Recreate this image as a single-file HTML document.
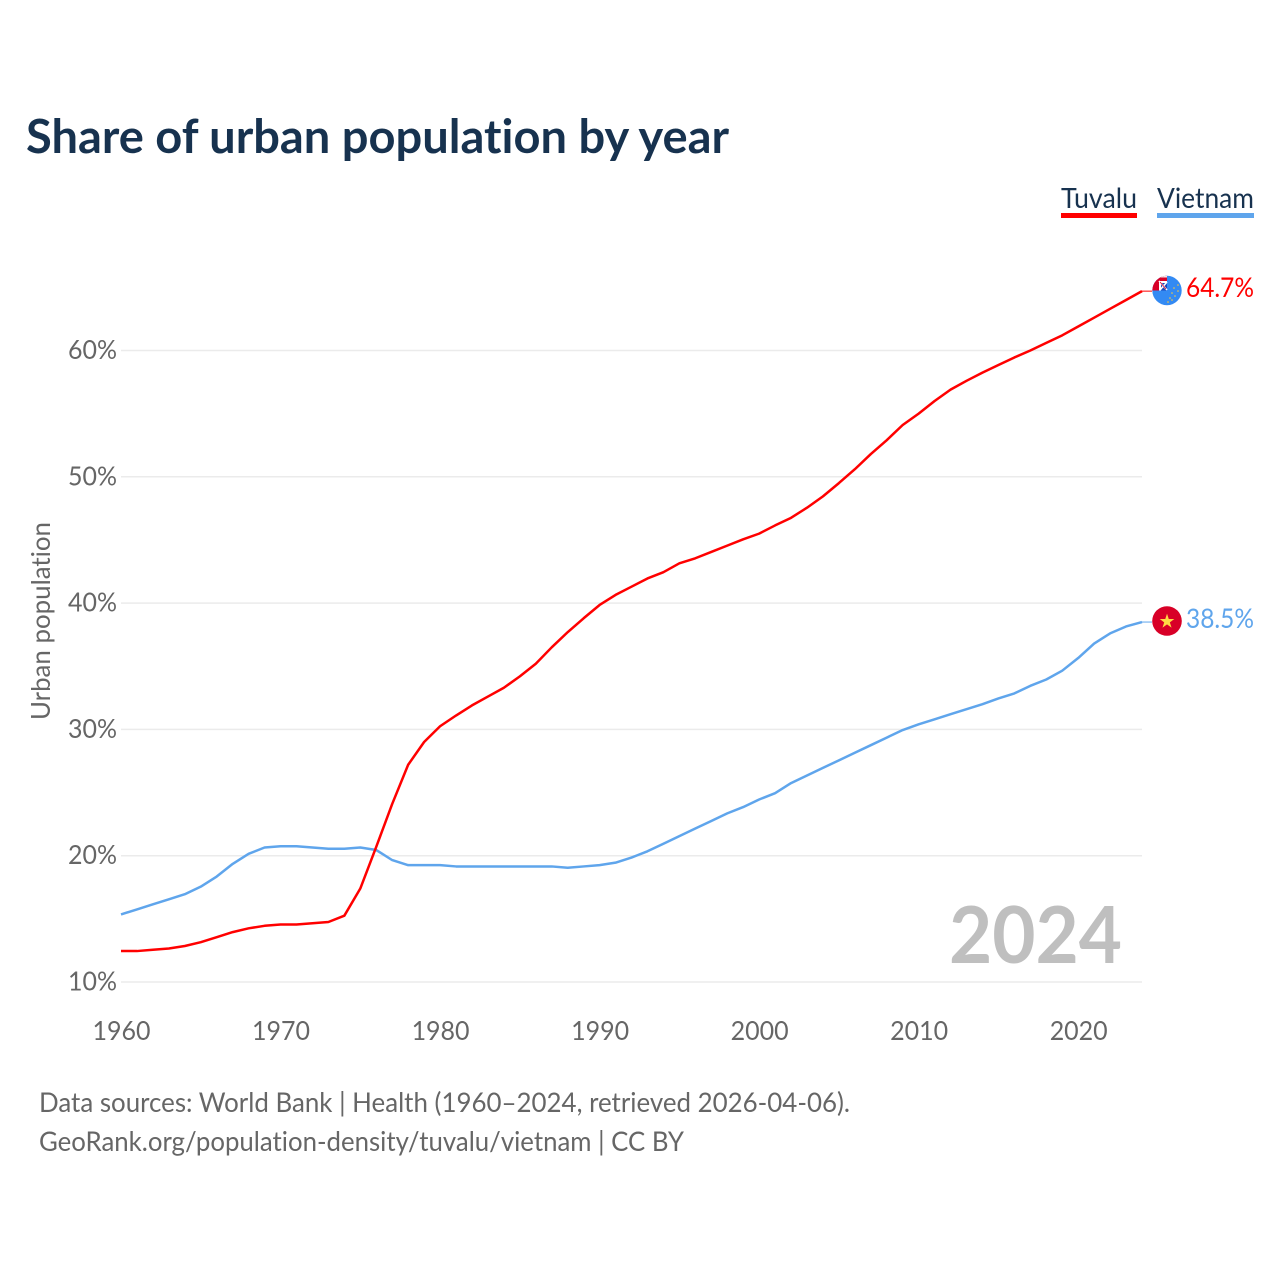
<!DOCTYPE html>
<html lang="en">
<head>
<meta charset="utf-8">
<title>Share of urban population by year</title>
<style>
html,body{margin:0;padding:0;background:#fff;}
svg{display:block;font-family:"Lato","Carlito","Liberation Sans",sans-serif;font-variant-ligatures:none;}
</style>
</head>
<body>
<svg id="chart" xmlns="http://www.w3.org/2000/svg" width="1280" height="1280" viewBox="0 0 1280 1280">
  <rect width="1280" height="1280" fill="#ffffff"/>
  <text x="26" y="153" font-size="47" font-weight="700" fill="#17324f" textLength="703" lengthAdjust="spacingAndGlyphs">Share of urban population by year</text>

  <g>
    <text x="1061" y="208" font-size="28" fill="#17324f" textLength="76" lengthAdjust="spacingAndGlyphs">Tuvalu</text>
    <rect x="1061" y="213" width="76" height="5" fill="#ff0000"/>
  </g>
  <g>
    <text x="1157" y="208" font-size="28" fill="#17324f" textLength="97" lengthAdjust="spacingAndGlyphs">Vietnam</text>
    <rect x="1157" y="213" width="97" height="5" fill="#5fa5ec"/>
  </g>

  <g id="grid"></g>
  <g id="yticks"></g>
  <g id="xticks"></g>
  <text transform="translate(50,621) rotate(-90)" text-anchor="middle" font-size="26.500" fill="#666666" textLength="198" lengthAdjust="spacingAndGlyphs">Urban population</text>
  <text x="1122" y="963" text-anchor="end" font-size="79" font-weight="700" fill="#bfbfbf" textLength="173" lengthAdjust="spacingAndGlyphs">2024</text>

  <g id="series"></g>

  <g>
    <defs>
      <clipPath id="tvClip"><circle cx="1167" cy="290.500" r="14.700"/></clipPath>
    </defs>
    <rect x="1154" y="290" width="13" height="1.500" fill="#338af3"/>
    <g clip-path="url(#tvClip)">
      <rect x="1152" y="275" width="30" height="31" fill="#338af3"/>
      <rect x="1152" y="275" width="15" height="15.500" fill="#d80027"/>
      <rect x="1152" y="275" width="15" height="2.500" fill="#f5e6e6"/>
      <rect x="1159" y="281" width="8" height="9.500" fill="#ffffff"/>
      <path d="M1161 283h6v7.500h-6z" fill="#1a47b8"/>
      <path d="M1159 281l8 9M1167 282l-7 8" stroke="#ffffff" stroke-width="1.600"/>
      <path d="M1160 282l6 7" stroke="#d80027" stroke-width="0.800"/>
    </g>
    <g fill="#ffc93a">
      <circle cx="1174" cy="288" r="0.800"/><circle cx="1178" cy="285" r="0.800"/>
      <circle cx="1178" cy="291" r="0.800"/><circle cx="1172" cy="293" r="0.800"/>
      <circle cx="1175" cy="296" r="0.800"/><circle cx="1170" cy="298" r="0.800"/>
      <circle cx="1168" cy="302" r="0.800"/><circle cx="1172" cy="300" r="0.800"/>
    </g>
  </g>
  <g>
    <circle cx="1167" cy="621" r="14.800" fill="#d80027"/>
    <text x="1167" y="627.500" text-anchor="middle" font-size="19" fill="#ffda44" font-family="'DejaVu Sans',sans-serif">★</text>
  </g>
  <text x="1186" y="297" font-size="27.500" fill="#ff0000" textLength="68" lengthAdjust="spacingAndGlyphs">64.7%</text>
  <text x="1186" y="628" font-size="27.500" fill="#5fa5ec" textLength="68" lengthAdjust="spacingAndGlyphs">38.5%</text>

  <text x="39" y="1112" font-size="27.500" fill="#666666" textLength="811" lengthAdjust="spacingAndGlyphs">Data sources: World Bank | Health (1960–2024, retrieved 2026-04-06).</text>
  <text x="39" y="1151" font-size="27.500" fill="#666666" textLength="645" lengthAdjust="spacingAndGlyphs">GeoRank.org/population-density/tuvalu/vietnam | CC BY</text>
</svg>
<script>
const yTicks = [10, 20, 30, 40, 50, 60];
const xTicks = [1960, 1970, 1980, 1990, 2000, 2010, 2020];
const startYear = 1960;
const endYear = 2024;
const tuvalu = [12.45,12.45,12.55,12.65,12.85,13.15,13.55,13.95,14.25,14.45,14.55,14.55,14.65,14.75,15.25,17.4,20.7,24.1,27.2,29.0,30.25,31.1,31.9,32.6,33.3,34.2,35.2,36.5,37.7,38.8,39.85,40.65,41.3,41.95,42.45,43.15,43.55,44.05,44.55,45.05,45.5,46.15,46.75,47.55,48.45,49.5,50.6,51.8,52.9,54.1,55.0,56.0,56.9,57.6,58.25,58.85,59.45,60.0,60.6,61.2,61.9,62.6,63.3,64.0,64.7];
const vietnam = [15.35,15.75,16.15,16.55,16.95,17.55,18.35,19.35,20.15,20.65,20.75,20.75,20.65,20.55,20.55,20.65,20.45,19.65,19.25,19.25,19.25,19.15,19.15,19.15,19.15,19.15,19.15,19.15,19.05,19.15,19.25,19.45,19.85,20.35,20.95,21.55,22.15,22.75,23.35,23.85,24.45,24.95,25.75,26.35,26.95,27.55,28.15,28.75,29.35,29.95,30.4,30.8,31.2,31.6,32.0,32.45,32.85,33.45,33.95,34.65,35.65,36.8,37.6,38.15,38.5];

const NS = 'http://www.w3.org/2000/svg';
const xLeft = 121, xRight = 1142, yBottom = 982, yTop = 350.5;
function xScale(year) { return xLeft + (year - startYear) * (xRight - xLeft) / (endYear - startYear); }
function yScale(v) { return yBottom - (v - 10) * (yBottom - yTop) / 50; }

const grid = document.getElementById('grid');
const yG = document.getElementById('yticks');
const xG = document.getElementById('xticks');
const seriesG = document.getElementById('series');

yTicks.forEach(function (t) {
  const line = document.createElementNS(NS, 'line');
  
  
  line.setAttribute('x1', xLeft);
  line.setAttribute('x2', xRight);
  line.setAttribute('y1', yScale(t));
  line.setAttribute('y2', yScale(t));
  line.setAttribute('stroke', '#ebebeb');
  line.setAttribute('stroke-width', '1.5');
  grid.appendChild(line);

  const label = document.createElementNS(NS, 'text');
  
  
  label.setAttribute('x', 117);
  label.setAttribute('y', yScale(t) + 8.5);
  label.setAttribute('text-anchor', 'end');
  label.setAttribute('font-size', '26.5');
  label.setAttribute('fill', '#666666');
  label.setAttribute('textLength', '49');
  label.setAttribute('lengthAdjust', 'spacingAndGlyphs');
  label.textContent = t + '%';
  yG.appendChild(label);
});

xTicks.forEach(function (t) {
  const label = document.createElementNS(NS, 'text');
  
  
  label.setAttribute('x', xScale(t) + 0.5);
  label.setAttribute('y', 1040);
  label.setAttribute('text-anchor', 'middle');
  label.setAttribute('font-size', '26.5');
  label.setAttribute('fill', '#666666');
  label.setAttribute('textLength', '58');
  label.setAttribute('lengthAdjust', 'spacingAndGlyphs');
  label.textContent = t;
  xG.appendChild(label);
});

function drawSeries(values, color, name) {
  const pts = values.map(function (v, i) {
    return xScale(startYear + i).toFixed(2) + ',' + yScale(v).toFixed(2);
  }).join(' ');
  const last = values[values.length - 1];

  const lead = document.createElementNS(NS, 'line');
  
  
  lead.setAttribute('x1', xScale(endYear));
  lead.setAttribute('x2', 1152);
  lead.setAttribute('y1', yScale(last));
  lead.setAttribute('y2', yScale(last));
  lead.setAttribute('stroke', color);
  lead.setAttribute('stroke-width', '1');
  seriesG.appendChild(lead);

  const line = document.createElementNS(NS, 'polyline');
  
  
  line.setAttribute('points', pts);
  line.setAttribute('fill', 'none');
  line.setAttribute('stroke', color);
  line.setAttribute('stroke-width', '2.5');
  line.setAttribute('stroke-linejoin', 'round');
  seriesG.appendChild(line);
}
drawSeries(vietnam, '#5fa5ec', 'vietnam');
drawSeries(tuvalu, '#ff0000', 'tuvalu');
</script>
</body>
</html>
